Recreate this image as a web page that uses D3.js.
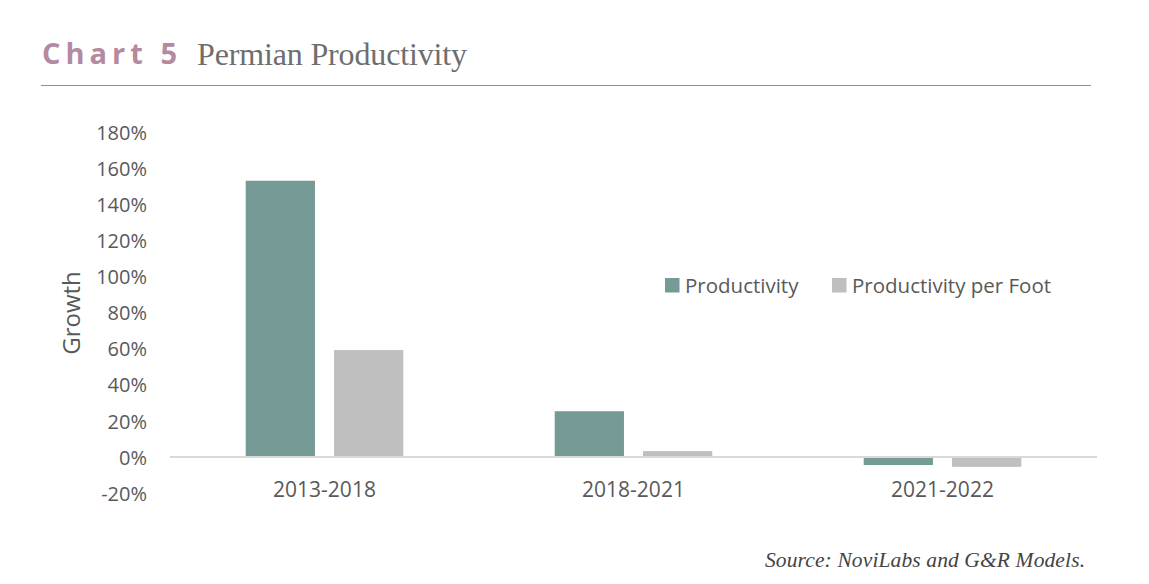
<!DOCTYPE html>
<html>
<head>
<meta charset="utf-8">
<script src="https://cdn.jsdelivr.net/npm/d3@7"></script>
<style>
	body { margin: 0; background: #fff; }
	svg { display: block; }
</style>
</head>
<body>
<div id="chart"></div>
<script>
//	chart data
var categories = ["2013-2018", "2018-2021", "2021-2022"];
var seriesNames = ["Productivity", "Productivity per Foot"];
var productivity = [1.53, 0.253, -0.045];
var perFoot = [0.592, 0.032, -0.055];
var yTicks = [-0.2, 0, 0.2, 0.4, 0.6, 0.8, 1.0, 1.2, 1.4, 1.6, 1.8];
var colors = ["#769a96", "#bfbfbf"];

var width = 1149;
var height = 584;

var svg = d3.select("#chart")
	.append("svg")
	.attr("width", width)
	.attr("height", height);

// title block
svg.append("text")
	.attr("x", 42)
	.attr("y", 64)
	.attr("textLength", 135)
	.attr("lengthAdjust", "spacing")
	.style("font-family", "'Open Sans', sans-serif")
	.style("font-weight", "bold")
	.style("font-size", "29px")
	.style("fill", "#b48aa0")
	.text("Chart 5");

svg.append("text")
	.attr("x", 197)
	.attr("y", 65)
	.attr("textLength", 270)
	.style("font-family", "'Liberation Serif', serif")
	.style("font-size", "32px")
	.style("fill", "#6e6e6e")
	.text("Permian Productivity");

svg.append("line")
	.attr("x1", 41).attr("x2", 1091)
	.attr("y1", 85.5).attr("y2", 85.5)
	.style("stroke", "#86958f")
	.style("stroke-width", 1.2);

// scales
var x0 = d3.scaleBand()
	.domain(categories)
	.range([170, 1097])
	.paddingInner(0.49)
	.paddingOuter(0.245);

var x1 = d3.scaleBand()
	.domain(seriesNames)
	.range([0, x0.bandwidth()])
	.paddingInner(0.216);

var y = d3.scaleLinear()
	.domain([-0.2, 1.8])
	.range([493, 132]);

var rows = categories.map(function(c, i) {
	return { cat: c, values: [productivity[i], perFoot[i]] };
});

// y tick labels (plain hyphen for negatives, like the original)
var pct = d3.format(".0%");
var yAxis = d3.axisLeft(y)
	.tickValues(yTicks)
	.tickFormat(function(d) { return pct(d).replace("\u2212", "-"); })
	.tickSize(0)
	.tickPadding(0);

var gy = svg.append("g")
	.attr("transform", "translate(147,0)")
	.call(yAxis);
gy.select(".domain").remove();
gy.selectAll("text")
	.attr("dy", "0.36em")
	.style("font-family", "'Open Sans', sans-serif")
	.style("font-size", "20px")
	.style("fill", "#595959");

// axis title
svg.append("text")
	.attr("transform", "translate(80,313) rotate(-90)")
	.attr("text-anchor", "middle")
	.style("font-family", "'Open Sans', sans-serif")
	.style("font-size", "24px")
	.style("fill", "#595959")
	.text("Growth");

// bars
var group = svg.selectAll(".group")
	.data(rows)
	.enter().append("g")
	.attr("class", "group")
	.attr("transform", function(d) { return "translate(" + x0(d.cat) + ",0)"; });

group.selectAll("rect")
	.data(function(d) { return d.values.map(function(v, i) { return { name: seriesNames[i], value: v, i: i }; }); })
	.enter().append("rect")
	.attr("x", function(d) { return x1(d.name); })
	.attr("y", function(d) { return y(Math.max(0, d.value)); })
	.attr("width", x1.bandwidth())
	.attr("height", function(d) { return Math.abs(y(d.value) - y(0)); })
	.style("fill", function(d) { return colors[d.i]; });

// zero line
svg.append("line")
	.attr("x1", 170).attr("x2", 1097)
	.attr("y1", y(0)).attr("y2", y(0))
	.style("stroke", "#d9d9d9")
	.style("stroke-width", 2);

// category labels
svg.selectAll(".cat")
	.data(categories)
	.enter().append("text")
	.attr("class", "cat")
	.attr("x", function(d) { return x0(d) + x0.bandwidth() / 2; })
	.attr("y", 497)
	.attr("text-anchor", "middle")
	.style("font-family", "'Open Sans', sans-serif")
	.style("font-size", "21px")
	.style("fill", "#595959")
	.text(function(d) { return d; });

// legend
var legendX = [665, 832];
var legend = svg.selectAll(".legend")
	.data(seriesNames)
	.enter().append("g")
	.attr("class", "legend")
	.attr("transform", function(d, i) { return "translate(" + legendX[i] + ",278)"; });

legend.append("rect")
	.attr("width", 14.5)
	.attr("height", 14.5)
	.style("fill", function(d, i) { return colors[i]; });

legend.append("text")
	.attr("x", 20)
	.attr("y", 15)
	.style("font-family", "'Open Sans', sans-serif")
	.style("font-size", "20.5px")
	.style("fill", "#595959")
	.text(function(d) { return d; });

// source note
svg.append("text")
	.attr("x", 1085)
	.attr("y", 567)
	.attr("text-anchor", "end")
	.attr("textLength", 320)
	.style("font-family", "'Liberation Serif', serif")
	.style("font-style", "italic")
	.style("font-size", "21.5px")
	.style("fill", "#444")
	.text("Source: NoviLabs and G&R Models.");
</script>
</body>
</html>
